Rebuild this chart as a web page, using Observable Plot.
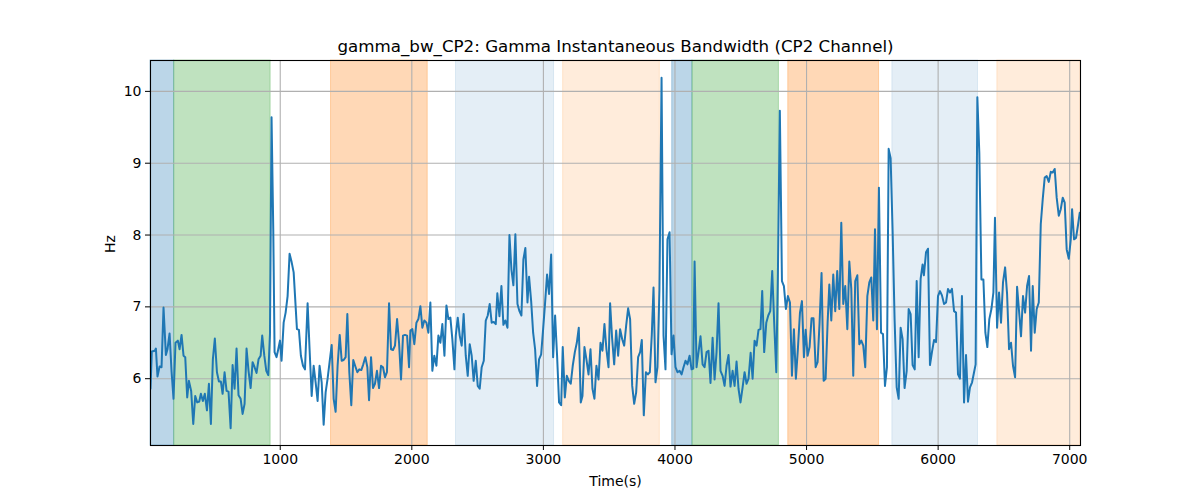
<!DOCTYPE html>
<html>
<head>
<meta charset="utf-8">
<script src="https://cdn.jsdelivr.net/npm/d3@7"></script>
<script src="https://cdn.jsdelivr.net/npm/@observablehq/plot@0.6"></script>
<style>
  html, body { margin: 0; padding: 0; background: #fff; }
  #chart { width: 1200px; height: 500px; }
</style>
</head>
<body>
<div id="chart"></div>
<script>
const title = "gamma_bw_CP2: Gamma Instantaneous Bandwidth (CP2 Channel)";
const xLabel = "Time(s)";
const yLabel = "Hz";
const xTicks = [1000, 2000, 3000, 4000, 5000, 6000, 7000];
const yTicks = [6, 7, 8, 9, 10];
const xDomain = [14, 7082];
const yDomain = [5.07, 10.43];

const spanStart = [14, 194, 1386, 2336, 3150, 3979, 4133, 4861, 5652, 6450];
const spanEnd   = [194, 927, 2121, 3081, 3885, 4133, 4790, 5551, 6303, 7082];
const spanPhase = ["p1", "p2", "p3", "p4", "p5", "p1", "p2", "p3", "p4", "p5"];

const times = [
14,24,47,55,67,83,98,113,131,143,159,174,189,204,222,235,250,265,278,293,306,323,339,354,369,384,397,412,427,443,458,473,488,503,519,534,549,562,577,592,607,623,638,653,668,683,699,714,729,744,759,775,790,805,820,835,851,863,879,894,909,922,934,947,957,972,985,998,1010,1026,1041,1056,1071,1087,1102,
1127,1142,1157,1173,1188,1208,1223,1239,1254,1269,1284,1299,1315,1330,1345,1360,1375,1391,1406,1421,1436,1452,1467,1482,1497,1510,1525,1540,1555,1571,1586,1601,1616,1631,1647,1662,1675,1690,1705,1720,1735,1751,1766,1781,1796,1811,1827,1842,1857,1872,1888,1903,1918,1933,1948,1964,1979,1989,2004,2019,2035,2050,2065,2080,2095,2111,2126,2141,2156,2171,2187,2202,2217,2232,2248,2263,2278,2293,2308,2324,
2334,2349,2364,2379,2394,2410,2425,2440,2455,2470,2486,2501,2516,2531,2547,2562,2577,2592,2607,2623,2638,2650,2666,2681,2696,2711,2727,2742,2757,2772,2787,2803,2818,2833,2848,2863,2879,2891,2907,2922,2937,2952,2967,2983,2998,3013,3028,3043,3059,3074,3089,3104,3119,3135,3147,3163,3178,3193,3208,3223,3239,3254,3269,3284,3297,3312,3327,3343,3358,3373,3388,3403,3419,3434,3449,3464,
3479,3495,3507,3522,3538,3553,3568,3583,3599,3614,3629,3644,3659,3675,3690,3705,3720,3735,3748,3763,3779,3794,3809,3824,3837,3852,3867,3882,3898,3913,3928,3943,3959,3974,3989,4004,4019,4035,4050,4065,4080,4095,4111,4126,4139,4149,4164,4179,4194,4210,4225,4240,4255,4270,4286,4301,4316,4331,4346,4362,4377,4392,4407,4422,4438,4453,4468,4483,4498,4514,4529,4544,4559,4575,4590,4605,
4620,4635,4650,4663,4678,4694,4709,4724,4739,4754,4770,4782,4797,4813,4828,4843,4858,4874,4889,4904,4919,4934,4950,4965,4980,4993,5008,5023,5038,5053,5069,5084,5099,5114,5130,5145,5160,5173,5188,5203,5218,5233,5249,5264,5279,5294,5310,5325,5340,5355,5370,5386,5401,5416,5431,5446,5462,5477,5492,5507,5520,5535,5550,5566,5581,5596,5611,5624,5639,5654,5669,5685,5700,
5715,5730,5745,5761,5776,5791,5806,5822,5837,5852,5867,5882,5892,5908,5923,5938,5953,5969,5984,5999,6014,6029,6045,6060,6075,6090,6105,6121,6136,6151,6166,6181,6197,6212,6227,6242,6258,6273,6285,6298,6313,6329,6344,6359,6374,6389,6405,6420,6432,6448,6463,6478,6493,6509,6524,6539,6554,6569,6585,6600,6615,6630,6645,6661,6676,6691,6706,6719,6734,6749,6765,6780,6795,6810,6825,6841,6856,6871,6886,6901,6917,6932,6947,6962,6977,6993,7008,7018,7033,7048,7064,7076
];

const hz = [
5.86,6.38,6.39,6.42,6.03,6.17,6.16,6.99,6.33,6.41,6.63,6.10,5.72,6.50,6.53,6.41,6.61,6.32,6.30,5.74,5.97,5.83,5.37,5.76,5.67,5.68,5.79,5.69,5.79,5.56,5.93,5.37,6.27,6.56,6.09,5.96,5.96,5.79,6.09,5.83,5.82,5.31,6.19,5.86,6.42,5.77,5.72,5.51,5.65,6.42,6.11,5.87,6.23,6.16,6.08,6.27,6.32,6.60,6.32,6.11,6.05,6.62,9.64,8.08,6.37,6.30,6.41,6.53,6.25,6.78,6.92,7.15,7.74,7.62,7.48,
6.69,6.68,6.32,6.18,6.13,7.05,6.41,5.76,6.18,5.95,5.69,6.18,5.95,5.36,5.81,6.00,6.23,6.47,5.72,5.54,6.18,6.61,6.25,6.26,6.30,6.90,6.09,5.63,6.26,6.17,6.09,6.13,6.12,6.20,6.30,6.16,5.70,6.30,5.87,5.93,6.11,5.87,6.18,6.16,6.02,6.09,7.05,6.41,6.40,6.46,6.83,6.50,5.99,6.60,6.61,6.60,6.16,6.67,6.69,6.48,6.78,6.83,7.01,6.71,6.81,6.78,6.64,7.06,6.11,6.32,6.18,6.60,6.50,6.76,6.32,7.02,6.83,6.85,6.55,6.13,
6.60,6.85,6.60,6.46,6.90,6.32,6.04,6.48,6.32,5.97,6.25,5.90,5.86,6.16,6.25,6.81,6.88,7.04,6.78,6.79,6.76,7.19,6.87,7.29,6.75,6.81,6.71,8.00,7.52,7.30,8.01,7.04,6.94,6.88,7.66,7.82,7.06,7.42,7.08,6.64,6.41,5.90,6.27,6.34,6.69,7.06,7.45,7.18,7.73,6.30,6.88,6.32,5.67,5.63,6.44,5.74,6.04,5.97,5.93,6.18,6.37,6.50,6.71,5.67,5.76,6.44,6.27,6.06,6.41,5.86,5.72,6.18,5.99,6.50,6.39,6.76,
6.41,6.16,7.05,6.57,6.20,6.67,6.32,6.69,6.55,6.46,6.74,6.98,6.83,5.90,5.65,5.81,6.30,6.37,6.54,5.49,6.09,6.06,6.09,6.62,7.27,5.95,6.16,7.25,10.19,6.60,6.13,7.94,8.04,6.34,6.60,6.16,6.09,6.11,6.06,6.16,6.25,6.20,6.32,6.13,6.14,7.63,6.16,6.37,6.59,6.20,6.16,6.37,6.39,5.94,6.57,5.99,6.37,7.05,6.11,6.04,5.90,6.18,6.33,5.89,6.11,5.90,6.24,5.86,5.67,5.88,6.09,5.93,6.00,6.36,6.00,6.53,
6.46,6.68,6.69,7.22,6.37,6.78,6.88,6.94,7.50,6.78,6.09,7.43,9.73,7.36,7.29,6.97,7.15,7.06,6.04,6.69,6.00,6.41,6.92,7.08,6.30,6.68,6.32,6.44,6.84,6.84,6.16,6.23,6.78,7.47,5.97,6.00,6.78,7.31,6.81,7.45,6.94,7.50,6.97,8.17,7.04,7.29,6.69,7.63,7.25,6.04,7.36,7.44,6.48,6.53,6.46,6.16,7.15,7.34,7.41,6.81,8.08,6.69,8.66,6.64,6.62,5.90,6.16,9.20,9.07,8.06,6.83,5.88,5.72,
6.71,6.55,5.87,6.11,6.97,6.90,6.19,6.13,7.36,6.30,7.39,7.59,7.44,7.76,7.81,6.19,6.37,6.54,6.51,7.15,7.22,7.16,7.04,7.06,7.25,7.20,7.25,6.94,6.92,6.06,6.00,7.15,5.67,6.33,5.68,5.88,5.95,6.09,6.20,9.92,9.14,7.38,7.38,6.64,6.44,6.83,6.97,7.20,8.24,6.71,7.20,6.78,7.34,7.55,7.18,6.41,6.50,6.18,6.02,7.28,6.94,6.59,7.15,6.92,7.29,7.43,6.39,7.29,6.64,6.97,7.06,8.15,8.50,8.80,8.82,8.74,8.88,8.87,8.92,8.52,8.27,8.36,8.52,8.45,7.80,7.67,7.94,8.36,7.94,7.96,8.15,8.31
];

// styling lookup (not data)
const phaseStyle = {
  p1: {color: "#1f77b4", opacity: 0.3},
  p2: {color: "#2ca02c", opacity: 0.3},
  p3: {color: "#ff7f0e", opacity: 0.3},
  p4: {color: "#1f77b4", opacity: 0.12},
  p5: {color: "#ff7f0e", opacity: 0.15}
};

const series = times.map((t, i) => ({t, v: hz[i]}));
const spans = spanStart.map((s, i) => ({start: s, end: spanEnd[i], phase: spanPhase[i]}));

const font = "DejaVu Sans, sans-serif";
const fmt = d => String(d);

const chart = Plot.plot({
  width: 1200,
  height: 500,
  marginLeft: 150,
  marginRight: 120,
  marginTop: 60,
  marginBottom: 55,
  style: {fontFamily: font, fontSize: "14px", color: "black", background: "white"},
  x: {domain: xDomain, ticks: xTicks, tickFormat: fmt},
  y: {domain: yDomain, ticks: yTicks, tickFormat: fmt},
  marks: [
    Plot.rect(spans, {
      x1: "start", x2: "end",
      fill: d => phaseStyle[d.phase].color,
      fillOpacity: d => phaseStyle[d.phase].opacity,
      stroke: d => phaseStyle[d.phase].color,
      strokeOpacity: d => phaseStyle[d.phase].opacity,
      strokeWidth: 1
    }),
    Plot.gridX(xTicks, {stroke: "#b0b0b0", strokeOpacity: 1, strokeWidth: 1.1}),
    Plot.gridY(yTicks, {stroke: "#b0b0b0", strokeOpacity: 1, strokeWidth: 1.1}),
    Plot.line(series, {x: "t", y: "v", stroke: "#1f77b4", strokeWidth: 2, clip: true}),
    Plot.frame({stroke: "black", strokeWidth: 1.1}),
    Plot.axisX(xTicks, {label: null, tickSize: 5, tickPadding: 4, fontSize: 14, tickFormat: fmt}),
    Plot.axisY(yTicks, {label: null, tickSize: 5, tickPadding: 4, fontSize: 14, tickFormat: fmt}),
    Plot.text([title], {text: d => d, frameAnchor: "top", lineAnchor: "middle", dy: -14, fontSize: 16.7}),
    Plot.text([xLabel], {text: d => d, frameAnchor: "bottom", lineAnchor: "middle", dy: 36, fontSize: 14}),
    Plot.text([yLabel], {text: d => d, frameAnchor: "left", lineAnchor: "middle", dx: -40, rotate: -90, fontSize: 14})
  ]
});
document.getElementById("chart").appendChild(chart);
</script>
</body>
</html>
